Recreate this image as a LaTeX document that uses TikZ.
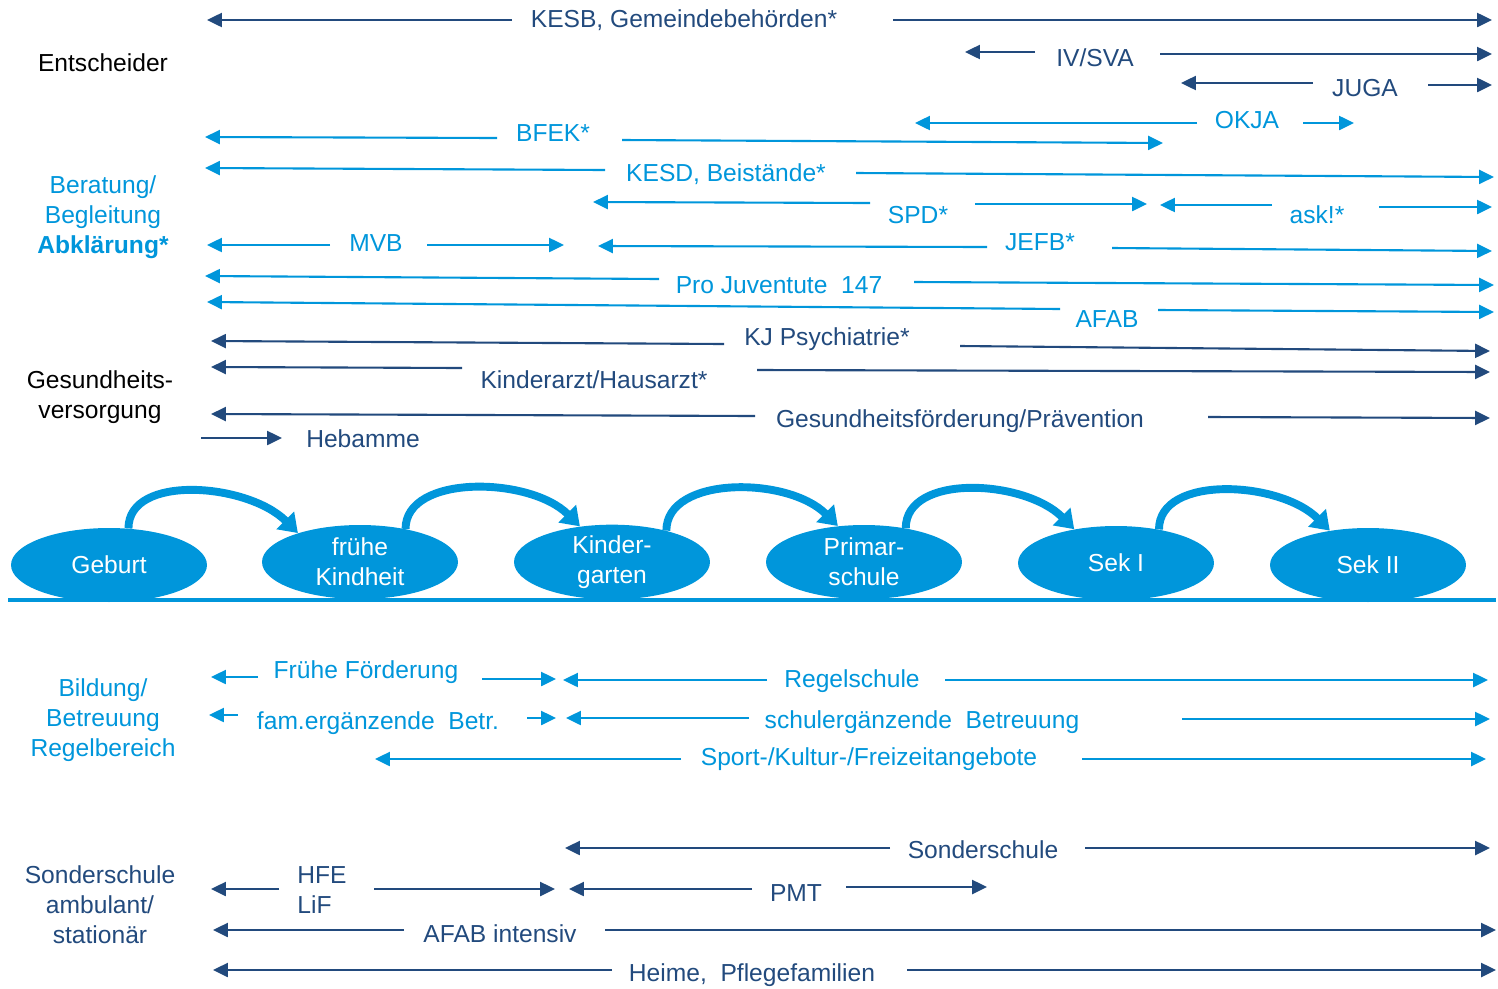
\documentclass[tikz,border=0pt]{standalone}
\usepackage{fontspec}
\setmainfont{Liberation Sans}
\usetikzlibrary{arrows.meta,shapes.geometric}
\definecolor{dunkel}{RGB}{34,74,125}
\definecolor{hell}{RGB}{0,150,219}

\begin{document}
\begin{tikzpicture}[x=0.02cm,y=-0.02cm,
		every node/.style={font=\fontsize{14}{17}\selectfont,align=center},
		dk/.style={text=dunkel},
		hb/.style={text=hell},
		dkpfeil/.style={draw=dunkel,line width=1.2pt,-{Triangle[length=8.5pt,width=8pt]}},
		hbpfeil/.style={draw=hell,line width=1.2pt,-{Triangle[length=8.5pt,width=8pt]}},
		stufe/.style={ellipse,fill=hell,text=white,minimum width=3.92cm,minimum height=1.48cm,inner sep=0pt},
		bogen/.style={draw=hell,line width=4.5pt,-{Triangle[length=0.36cm,width=0.48cm]}}]
		\useasboundingbox (0,0) rectangle (1498,988);

		% Bereiche links
		\node (ent) at (103,63) {Entscheider};
		\node[hb] (ber) at (103,217) {Beratung/\\Begleitung\\\textbf{Abklärung*}};
		\node (ges) at (100,397) {Gesundheits-\\versorgung};
		\node[hb] (bil) at (103,720) {Bildung/\\Betreuung\\Regelbereich};
		\node[dk] (son) at (100,905) {Sonderschule\\ambulant/\\stationär};

		% Entscheider
		\node[dk] (kesb) at (684,20) {KESB, Gemeindebehörden*};
		\coordinate (kesb-l) at (207,20); \coordinate (kesb-r) at (1492,20);
		\draw[dkpfeil] (kesb.center) ++(-172,0) -- (kesb-l);
		\draw[dkpfeil] (kesb.center) ++(209,0) -- (kesb-r);
		\node[dk] (iv) at (1095,58) {IV/SVA};
		\coordinate (iv-l) at (965,52); \coordinate (iv-r) at (1492,54);
		\draw[dkpfeil] (iv.center) ++(-60,-6) -- (iv-l);
		\draw[dkpfeil] (iv.center) ++(65,-4) -- (iv-r);
		\node[dk] (juga) at (1365,88) {JUGA};
		\coordinate (juga-l) at (1181,83); \coordinate (juga-r) at (1492,85);
		\draw[dkpfeil] (juga.center) ++(-52,-5) -- (juga-l);
		\draw[dkpfeil] (juga.center) ++(63,-3) -- (juga-r);

		% Beratung/Begleitung
		\node[hb] (okja) at (1247,120) {OKJA};
		\coordinate (okja-l) at (915,123); \coordinate (okja-r) at (1354,123);
		\draw[hbpfeil] (okja.center) ++(-50,3) -- (okja-l);
		\draw[hbpfeil] (okja.center) ++(56,3) -- (okja-r);
		\node[hb] (bfek) at (553,133) {BFEK*};
		\coordinate (bfek-l) at (205,137); \coordinate (bfek-r) at (1163,143);
		\draw[hbpfeil] (bfek.center) ++(-56,5) -- (bfek-l);
		\draw[hbpfeil] (bfek.center) ++(69,7) -- (bfek-r);
		\node[hb] (kesd) at (726,174) {KESD, Beistände*};
		\coordinate (kesd-l) at (205,168); \coordinate (kesd-r) at (1494,177);
		\draw[hbpfeil] (kesd.center) ++(-121,-4) -- (kesd-l);
		\draw[hbpfeil] (kesd.center) ++(130,-1) -- (kesd-r);
		\node[hb] (spd) at (918,215) {SPD*};
		\coordinate (spd-l) at (593,202); \coordinate (spd-r) at (1147,204);
		\draw[hbpfeil] (spd.center) ++(-48,-12) -- (spd-l);
		\draw[hbpfeil] (spd.center) ++(57,-11) -- (spd-r);
		\node[hb] (ask) at (1317,215) {ask!*};
		\coordinate (ask-l) at (1160,205); \coordinate (ask-r) at (1492,207);
		\draw[hbpfeil] (ask.center) ++(-45,-10) -- (ask-l);
		\draw[hbpfeil] (ask.center) ++(62,-8) -- (ask-r);
		\node[hb] (mvb) at (376,243) {MVB};
		\coordinate (mvb-l) at (207,245); \coordinate (mvb-r) at (564,245);
		\draw[hbpfeil] (mvb.center) ++(-46,2) -- (mvb-l);
		\draw[hbpfeil] (mvb.center) ++(51,2) -- (mvb-r);
		\node[hb] (jefb) at (1040,242) {JEFB*};
		\coordinate (jefb-l) at (598,246); \coordinate (jefb-r) at (1492,251);
		\draw[hbpfeil] (jefb.center) ++(-53,5) -- (jefb-l);
		\draw[hbpfeil] (jefb.center) ++(72,6) -- (jefb-r);
		\node[hb] (pj) at (779,285) {Pro Juventute\ \ 147};
		\coordinate (pj-l) at (205,276); \coordinate (pj-r) at (1494,285);
		\draw[hbpfeil] (pj.center) ++(-120,-6) -- (pj-l);
		\draw[hbpfeil] (pj.center) ++(135,-3) -- (pj-r);
		\node[hb] (afab) at (1107,319) {AFAB};
		\coordinate (afab-l) at (207,302); \coordinate (afab-r) at (1494,312);
		\draw[hbpfeil] (afab.center) ++(-47,-10) -- (afab-l);
		\draw[hbpfeil] (afab.center) ++(51,-9) -- (afab-r);

		% Gesundheitsversorgung
		\node[dk] (kjp) at (827,339) {KJ Psychiatrie*};
		\coordinate (kjp-l) at (211,341); \coordinate (kjp-r) at (1490,351);
		\draw[dkpfeil] (kjp.center) ++(-103,5) -- (kjp-l);
		\draw[dkpfeil] (kjp.center) ++(133,7) -- (kjp-r);
		\node[dk] (ka) at (594,380) {Kinderarzt/Hausarzt*};
		\coordinate (ka-l) at (211,367); \coordinate (ka-r) at (1490,372);
		\draw[dkpfeil] (ka.center) ++(-132,-12) -- (ka-l);
		\draw[dkpfeil] (ka.center) ++(163,-10) -- (ka-r);
		\node[dk] (gf) at (960,421) {Gesundheitsförderung/Prävention};
		\coordinate (gf-l) at (211,414); \coordinate (gf-r) at (1490,418);
		\draw[dkpfeil] (gf.center) ++(-205,-5) -- (gf-l);
		\draw[dkpfeil] (gf.center) ++(248,-4) -- (gf-r);
		\node[dk] (heb) at (363,439) {Hebamme};
		\draw[dkpfeil] (heb.center) ++(-162,-1) -- ++(81,0);

		% Lebensabschnitte
		\node[stufe] (geburt) at (109,565) {Geburt};
		\node[stufe] (fk) at (360,562) {frühe\\Kindheit};
		\node[stufe] (kg) at (612,562) {Kinder-\\garten};
		\node[stufe] (ps) at (864,562) {Primar-\\schule};
		\node[stufe] (sek1) at (1116,563) {Sek I};
		\node[stufe] (sek2) at (1368,565) {Sek II};
		\coordinate (za) at (8,600); \coordinate (ze) at (1496,600);
		\draw[hell,line width=2.3pt] (za) -- (ze);
		\draw[bogen] (geburt.62) .. controls +(0,-55) and +(-50,-50) .. (fk.155);
		\draw[bogen] (fk.36) .. controls +(0,-55) and +(-50,-50) .. (kg.132);
		\draw[bogen] (kg.30) .. controls +(0,-55) and +(-50,-50) .. (ps.126);
		\draw[bogen] (ps.39) .. controls +(0,-55) and +(-50,-50) .. (sek1.141);
		\draw[bogen] (sek1.38) .. controls +(0,-55) and +(-50,-50) .. (sek2.138);

		% Bildung/Betreuung
		\node[hb] (ff) at (366,672) {Frühe Förderung};
		\coordinate (ff-l) at (211,677); \coordinate (ff-r) at (556,679);
		\draw[hbpfeil] (ff.center) ++(-108,5) -- (ff-l);
		\draw[hbpfeil] (ff.center) ++(116,7) -- (ff-r);
		\node[hb] (fam) at (378,723) {fam.ergänzende\ \ Betr.};
		\coordinate (fam-l) at (209,715); \coordinate (fam-r) at (556,718);
		\draw[hbpfeil] (fam.center) ++(-140,-8) -- (fam-l);
		\draw[hbpfeil] (fam.center) ++(149,-5) -- (fam-r);
		\node[hb] (rs) at (852,681) {Regelschule};
		\coordinate (rs-l) at (563,680); \coordinate (rs-r) at (1488,680);
		\draw[hbpfeil] (rs.center) ++(-85,-1) -- (rs-l);
		\draw[hbpfeil] (rs.center) ++(93,-1) -- (rs-r);
		\node[hb] (sb) at (922,722) {schulergänzende\ \ Betreuung};
		\coordinate (sb-l) at (566,718); \coordinate (sb-r) at (1490,719);
		\draw[hbpfeil] (sb.center) ++(-173,-4) -- (sb-l);
		\draw[hbpfeil] (sb.center) ++(260,-3) -- (sb-r);
		\node[hb] (skf) at (869,759) {Sport-/Kultur-/Freizeitangebote};
		\coordinate (skf-l) at (375,759); \coordinate (skf-r) at (1486,759);
		\draw[hbpfeil] (skf.center) ++(-188,0) -- (skf-l);
		\draw[hbpfeil] (skf.center) ++(213,0) -- (skf-r);

		% Sonderschule
		\node[dk] (ss) at (983,850) {Sonderschule};
		\coordinate (ss-l) at (565,848); \coordinate (ss-r) at (1490,848);
		\draw[dkpfeil] (ss.center) ++(-93,-2) -- (ss-l);
		\draw[dkpfeil] (ss.center) ++(102,-2) -- (ss-r);
		\node[dk,align=left] (hfe) at (322,890) {HFE\\LiF};
		\coordinate (hfe-l) at (211,889); \coordinate (hfe-r) at (555,889);
		\draw[dkpfeil] (hfe.center) ++(-43,-1) -- (hfe-l);
		\draw[dkpfeil] (hfe.center) ++(52,-1) -- (hfe-r);
		\node[dk] (pmt) at (796,893) {PMT};
		\coordinate (pmt-l) at (569,889); \coordinate (pmt-r) at (987,887);
		\draw[dkpfeil] (pmt.center) ++(-44,-4) -- (pmt-l);
		\draw[dkpfeil] (pmt.center) ++(50,-6) -- (pmt-r);
		\node[dk] (afabi) at (500,934) {AFAB intensiv};
		\coordinate (afabi-l) at (213,930); \coordinate (afabi-r) at (1496,930);
		\draw[dkpfeil] (afabi.center) ++(-96,-4) -- (afabi-l);
		\draw[dkpfeil] (afabi.center) ++(105,-4) -- (afabi-r);
		\node[dk] (heime) at (752,975) {Heime,\ \ Pflegefamilien};
		\coordinate (heime-l) at (213,970); \coordinate (heime-r) at (1496,970);
		\draw[dkpfeil] (heime.center) ++(-140,-5) -- (heime-l);
		\draw[dkpfeil] (heime.center) ++(155,-5) -- (heime-r);
	\end{tikzpicture}
\end{document}
